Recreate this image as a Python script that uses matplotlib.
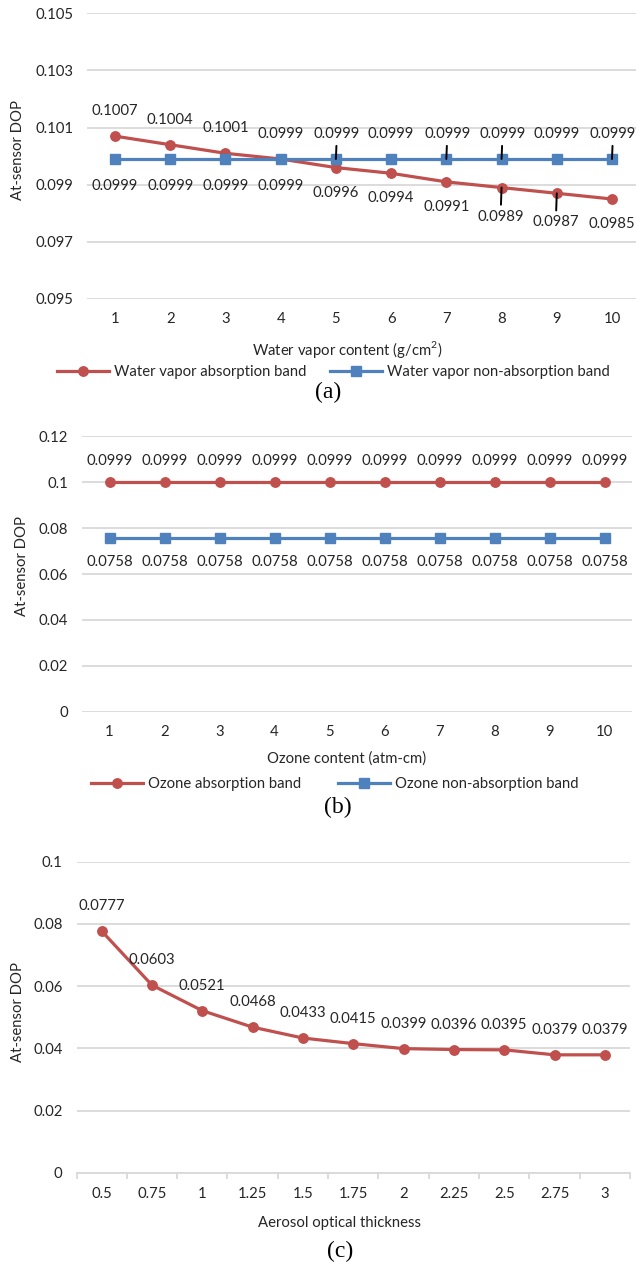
import matplotlib
matplotlib.use("Agg")
import matplotlib.pyplot as plt
from matplotlib.ticker import FixedLocator

# ---------------- data ----------------
wv_content = ["1", "2", "3", "4", "5", "6", "7", "8", "9", "10"]
wv_absorption = [0.1007, 0.1004, 0.1001, 0.0999, 0.0996, 0.0994, 0.0991, 0.0989, 0.0987, 0.0985]
wv_non_absorption = [0.0999, 0.0999, 0.0999, 0.0999, 0.0999, 0.0999, 0.0999, 0.0999, 0.0999, 0.0999]

oz_content = ["1", "2", "3", "4", "5", "6", "7", "8", "9", "10"]
oz_absorption = [0.0999, 0.0999, 0.0999, 0.0999, 0.0999, 0.0999, 0.0999, 0.0999, 0.0999, 0.0999]
oz_non_absorption = [0.0758, 0.0758, 0.0758, 0.0758, 0.0758, 0.0758, 0.0758, 0.0758, 0.0758, 0.0758]

aot_labels = ["0.5", "0.75", "1", "1.25", "1.5", "1.75", "2", "2.25", "2.5", "2.75", "3"]
aot_dop = [0.0777, 0.0603, 0.0521, 0.0468, 0.0433, 0.0415, 0.0399, 0.0396, 0.0395, 0.0379, 0.0379]

ytick_a = [0.095, 0.097, 0.099, 0.101, 0.103, 0.105]
ytick_b = [0, 0.02, 0.04, 0.06, 0.08, 0.1, 0.12]
ytick_c = [0, 0.02, 0.04, 0.06, 0.08, 0.1]

# ---------------- style ----------------
W, H, DPI = 636, 1268, 100
RED = "#C0504D"
BLUE = "#4F81BD"
GRID = "#D9D9D9"
TXT = "#262626"
FS = 10.7
plt.rcParams["font.family"] = ["Lato", "DejaVu Sans"]
plt.rcParams["mathtext.fontset"] = "custom"
plt.rcParams["mathtext.rm"] = "Lato"
plt.rcParams["text.color"] = TXT

fig = plt.figure(figsize=(W / DPI, H / DPI), dpi=DPI)
fig.patch.set_facecolor("white")


def px(v):
    return v * 72.0 / DPI  # pixels -> points


def add_ax(left, top, right, bottom):
    return fig.add_axes([left / W, 1 - bottom / H, (right - left) / W, (bottom - top) / H])


def fx(x):
    return x / W


def fy(y):
    return 1 - y / H


def style_axes(ax, yticks, ylabels, xlabels, ylim, cat_ticks=False):
    n = len(xlabels)
    ax.set_xlim(-0.5, n - 0.5)
    ax.set_ylim(*ylim)
    ax.set_yticks(yticks)
    ax.set_yticklabels(ylabels)
    ax.set_xticks(range(n))
    ax.set_xticklabels(xlabels)
    for s in ax.spines.values():
        s.set_visible(False)
    ax.grid(axis="y", color=GRID, linewidth=1.3, zorder=0)
    ax.set_axisbelow(True)
    ax.tick_params(axis="y", length=0, pad=px(14), labelsize=FS, labelcolor=TXT)
    ax.tick_params(axis="x", which="major", length=0, pad=px(13), labelsize=FS, labelcolor=TXT)
    if cat_ticks:
        ax.spines["bottom"].set_visible(True)
        ax.spines["bottom"].set_color(GRID)
        ax.spines["bottom"].set_linewidth(1.3)
        ax.xaxis.set_minor_locator(FixedLocator([i - 0.5 for i in range(n + 1)]))
        ax.tick_params(axis="x", which="minor", length=px(6), width=1.3, color=GRID)
        ax.tick_params(axis="x", which="major", pad=px(14))
    ax.patch.set_alpha(0)


def label(ax, x, y, dy_px, dx_px=0, leader=False):
    kw = {}
    if leader:
        kw["arrowprops"] = dict(arrowstyle="-", color="black", lw=1.4, shrinkA=1.5, shrinkB=0)
    ax.annotate(f"{y:.4f}", (x, y), xytext=(px(dx_px), px(dy_px)), textcoords="offset points",
                ha="center", va="center", fontsize=FS, color=TXT, zorder=5, **kw)


line_kw = dict(linewidth=2.3, zorder=3)

# ---------------- panel (a) ----------------
axa = add_ax(87.4, 13.3, 639.6, 299)
style_axes(axa, ytick_a, [f"{t:.3f}" for t in ytick_a], wv_content, (0.095, 0.105))
xa = list(range(len(wv_content)))
la_r, = axa.plot(xa, wv_absorption, color=RED, marker="o", markersize=6.8, **line_kw)
la_b, = axa.plot(xa, wv_non_absorption, color=BLUE, marker="s", markersize=6.8, **line_kw)
for i, v in enumerate(wv_absorption):
    if i <= 3:
        label(axa, i, v, 25)
    else:
        lead = i in (7, 8)
        label(axa, i, v, -29 if lead else -25, dx_px=-1 if lead else 0, leader=lead)
for i, v in enumerate(wv_non_absorption):
    if i <= 3:
        label(axa, i, v, -27)
    else:
        lead = i in (4, 6, 7, 9)
        label(axa, i, v, 25, dx_px=1 if lead else 0, leader=lead)

fig.text(fx(18), fy(150), "At-sensor DOP", rotation=90, ha="center", va="center", fontsize=FS)
fig.text(fx(347), fy(349), "Water vapor content (g/cm$^2$)", ha="center", va="center", fontsize=FS)
leg_kw = dict(frameon=False, fontsize=FS, handlelength=3.5, handletextpad=0.35,
              borderpad=0, borderaxespad=0, loc="center left")
fig.legend([la_r], ["Water vapor absorption band"], bbox_to_anchor=(fx(57), fy(372)), **leg_kw)
fig.legend([la_b], ["Water vapor non-absorption band"], bbox_to_anchor=(fx(330), fy(372)), **leg_kw)
fig.text(fx(328), fy(392), "(a)", ha="center", va="center", fontsize=17,
         family=["Liberation Serif", "DejaVu Serif"], color="black")

# ---------------- panel (b) ----------------
axb = add_ax(82, 436, 632, 712)
style_axes(axb, ytick_b, ["0", "0.02", "0.04", "0.06", "0.08", "0.1", "0.12"], oz_content, (0, 0.12))
xb = list(range(len(oz_content)))
lb_r, = axb.plot(xb, oz_absorption, color=RED, marker="o", markersize=6.8, **line_kw)
lb_b, = axb.plot(xb, oz_non_absorption, color=BLUE, marker="s", markersize=6.8, **line_kw)
for i, v in enumerate(oz_absorption):
    label(axb, i, v, 21)
for i, v in enumerate(oz_non_absorption):
    label(axb, i, v, -24)

fig.text(fx(22), fy(566), "At-sensor DOP", rotation=90, ha="center", va="center", fontsize=FS)
fig.text(fx(347), fy(759), "Ozone content (atm-cm)", ha="center", va="center", fontsize=FS)
fig.legend([lb_r], ["Ozone absorption band"], bbox_to_anchor=(fx(91), fy(784)), **leg_kw)
fig.legend([lb_b], ["Ozone non-absorption band"], bbox_to_anchor=(fx(338), fy(784)), **leg_kw)
fig.text(fx(338), fy(807), "(b)", ha="center", va="center", fontsize=17,
         family=["Liberation Serif", "DejaVu Serif"], color="black")

# ---------------- panel (c) ----------------
axc = add_ax(76.5, 861.7, 630, 1172.7)
style_axes(axc, ytick_c, ["0", "0.02", "0.04", "0.06", "0.08", "0.1"], aot_labels, (0, 0.1), cat_ticks=True)
xc = list(range(len(aot_labels)))
axc.plot(xc, aot_dop, color=RED, marker="o", markersize=6.8, **line_kw)
for i, v in enumerate(aot_dop):
    label(axc, i, v, 25)

fig.text(fx(18), fy(1012), "At-sensor DOP", rotation=90, ha="center", va="center", fontsize=FS)
fig.text(fx(339), fy(1223), "Aerosol optical thickness", ha="center", va="center", fontsize=FS)
fig.text(fx(340), fy(1251), "(c)", ha="center", va="center", fontsize=17,
         family=["Liberation Serif", "DejaVu Serif"], color="black")

fig.savefig("out.png", dpi=DPI, facecolor="white")
